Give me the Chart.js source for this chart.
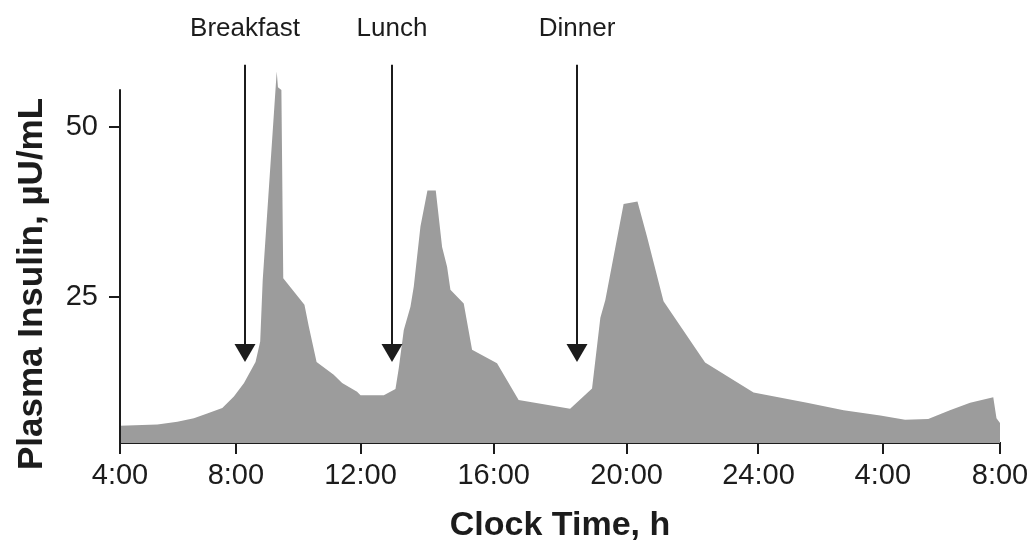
<!DOCTYPE html>
<html>
<head>
<meta charset="utf-8">
<script src="https://cdn.jsdelivr.net/npm/chart.js@4.4.0/dist/chart.umd.min.js"></script>
<style>
    html, body { margin: 0; padding: 0; background: #fff; }
    #wrap { width: 1032px; height: 550px; }
</style>
</head>
<body>
<div id="wrap"><canvas id="insulinChart" width="1032" height="550"></canvas></div>
<script>
// clock time in hours from midnight of day 1 (28 = 4:00 next day)
const clockHours = [4.0, 5.29, 5.98, 6.55, 7.01, 7.53, 7.93, 8.26, 8.63, 8.78, 8.86, 9.31, 9.35, 9.46, 9.52,
    10.2, 10.34, 10.59, 11.14, 11.41, 11.89, 12.0, 12.7, 13.05, 13.15, 13.3, 13.5, 13.6, 13.8, 14.01, 14.26,
    14.45, 14.6, 14.7, 15.1, 15.35, 16.1, 16.75, 18.3, 18.96, 19.21, 19.36, 19.91, 20.33, 20.62, 21.12,
    22.38, 23.85, 25.56, 26.74, 27.92, 28.76, 29.55, 30.29, 30.98, 31.77, 31.88, 32.0];
// plasma insulin, µU/mL
const insulin = [6.1, 6.3, 6.7, 7.2, 7.9, 8.7, 10.4, 12.4, 15.5, 18.5, 27.5, 58.2, 55.9, 55.5, 27.8,
    23.9, 20.7, 15.5, 13.6, 12.4, 11.1, 10.6, 10.6, 11.5, 14.6, 20.2, 23.6, 26.6, 35.4, 40.7, 40.7,
    32.4, 29.5, 26.1, 24.1, 17.3, 15.3, 9.9, 8.6, 11.6, 22.0, 24.6, 38.7, 39.1, 33.9, 24.4,
    15.4, 11.0, 9.5, 8.4, 7.6, 7.0, 7.1, 8.4, 9.5, 10.3, 7.2, 6.5];

const xTickHours = [4, 8, 12, 16, 20, 24, 28, 32];
const xTickLabels = ['4:00', '8:00', '12:00', '16:00', '20:00', '24:00', '4:00', '8:00'];
const yTickValues = [25, 50];

const mealNames = ['Breakfast', 'Lunch', 'Dinner'];
const mealHours = [8.28, 12.95, 18.5];
const arrowTop = 59.2;   // µU/mL level where the arrows start
const arrowTip = 15.5;   // and where they point to
const yAxisTop = 55.6;   // the drawn y axis line stops here

// the 4-hour blocks on the original axis are not equally wide
const blockWidths = [116, 124.7, 133.3, 133, 132, 124.4, 117.3];
const blockEdges = [0];
blockWidths.forEach(w => blockEdges.push(blockEdges[blockEdges.length - 1] + w));
const axisLen = blockEdges[blockEdges.length - 1];

function clockToDecimal(h) {
    let i = Math.floor((h - xTickHours[0]) / 4);
    i = Math.max(0, Math.min(blockWidths.length - 1, i));
    const f = (h - xTickHours[i]) / 4;
    return (blockEdges[i] + f * blockWidths[i]) / axisLen;
}

function decimalToClock(d) {
    const p = d * axisLen;
    let i = 0;
    while (i < blockWidths.length - 1 && p > blockEdges[i + 1]) i++;
    return xTickHours[i] + 4 * (p - blockEdges[i]) / blockWidths[i];
}

class ClockScale extends Chart.LinearScale {
    static id = 'clock';
    static defaults = {};
    getPixelForValue(value) {
        return this.getPixelForDecimal(clockToDecimal(value));
    }
    getValueForPixel(pixel) {
        return decimalToClock(this.getDecimalForPixel(pixel));
    }
}
Chart.register(ClockScale);

const FONT = '"Liberation Sans", Arial, Helvetica, sans-serif';
const INK = '#1c1c1c';

// y axis line, meal arrows and axis titles
const extras = {
    id: 'extras',
    afterDatasetsDraw(chart) {
        const { ctx, chartArea, scales: { x, y } } = chart;
        ctx.save();

        ctx.strokeStyle = INK;
        ctx.lineWidth = 2;
        ctx.beginPath();
        ctx.moveTo(chartArea.left, y.getPixelForValue(yAxisTop));
        ctx.lineTo(chartArea.left, chartArea.bottom + 1);
        ctx.stroke();

        mealNames.forEach((name, i) => {
            const px = Math.round(x.getPixelForValue(mealHours[i]));
            const top = y.getPixelForValue(arrowTop);
            const tip = y.getPixelForValue(arrowTip);
            ctx.strokeStyle = INK;
            ctx.fillStyle = INK;
            ctx.lineWidth = 2;
            ctx.beginPath();
            ctx.moveTo(px, top);
            ctx.lineTo(px, tip - 12);
            ctx.stroke();
            ctx.beginPath();
            ctx.moveTo(px - 10.5, tip - 18);
            ctx.lineTo(px + 10.5, tip - 18);
            ctx.lineTo(px, tip);
            ctx.closePath();
            ctx.fill();

            ctx.font = '26px ' + FONT;
            ctx.textAlign = 'center';
            ctx.textBaseline = 'alphabetic';
            ctx.fillText(name, px, chartArea.top - 26);
        });

        ctx.fillStyle = INK;
        ctx.font = 'bold 34px ' + FONT;
        ctx.textAlign = 'center';
        ctx.textBaseline = 'alphabetic';
        ctx.fillText('Clock Time, h', (chartArea.left + chartArea.right) / 2, 535);

        ctx.font = 'bold 35px ' + FONT;
        ctx.translate(42, 284);
        ctx.rotate(-Math.PI / 2);
        ctx.fillText('Plasma Insulin, µU/mL', 0, 0);
        ctx.restore();
    }
};

new Chart(document.getElementById('insulinChart'), {
    type: 'line',
    data: {
        datasets: [{
            data: clockHours.map((h, i) => ({ x: h, y: insulin[i] })),
            borderWidth: 0,
            pointRadius: 0,
            tension: 0,
            fill: 'start',
            backgroundColor: '#9c9c9c'
        }]
    },
    options: {
        responsive: false,
        animation: false,
        layout: { padding: { top: 62, right: 32, left: 0, bottom: 0 } },
        plugins: { legend: { display: false }, tooltip: { enabled: false } },
        scales: {
            x: {
                type: 'clock',
                min: 4,
                max: 32,
                afterBuildTicks: scale => { scale.ticks = xTickHours.map(v => ({ value: v })); },
                afterFit: scale => {
                    scale.height = 107;
                    scale.paddingLeft = 0;
                    scale.paddingRight = 0;
                },
                ticks: {
                    autoSkip: false,
                    maxRotation: 0,
                    padding: 5,
                    color: INK,
                    font: { family: FONT, size: 29 },
                    callback: (v, i) => xTickLabels[i]
                },
                grid: { drawOnChartArea: false, tickLength: 11, lineWidth: 2, color: INK },
                border: { color: INK, width: 2 }
            },
            y: {
                min: 3.57,
                max: 59.6,
                afterBuildTicks: scale => { scale.ticks = yTickValues.map(v => ({ value: v })); },
                afterFit: scale => {
                    scale.width = 120;
                    scale.paddingTop = 0;
                    scale.paddingBottom = 0;
                },
                ticks: {
                    padding: 11,
                    color: INK,
                    font: { family: FONT, size: 29 },
                    callback: v => v
                },
                grid: { drawOnChartArea: false, tickLength: 11, lineWidth: 2, color: INK },
                border: { display: false }
            }
        }
    },
    plugins: [extras]
});
</script>
</body>
</html>
